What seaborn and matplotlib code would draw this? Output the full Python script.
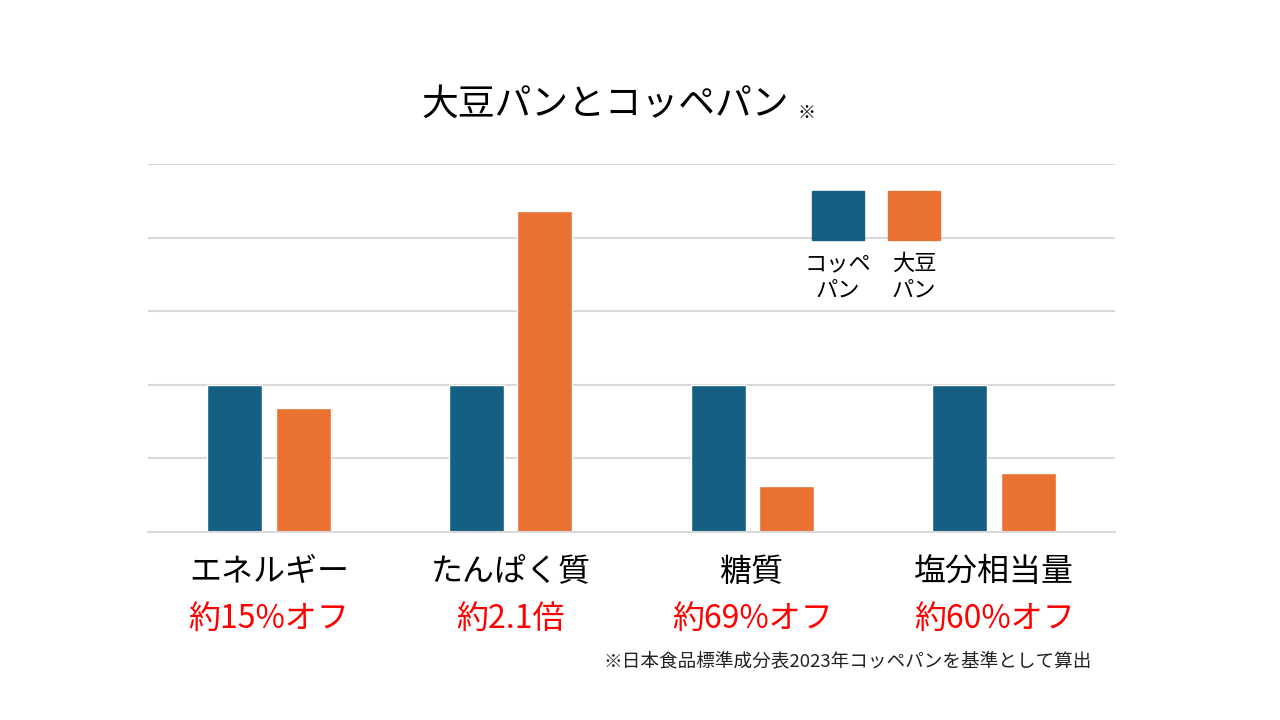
import numpy as np
import pandas as pd
import matplotlib
matplotlib.use("Agg")
import matplotlib.pyplot as plt
import matplotlib.transforms as mtransforms
from matplotlib.patches import Rectangle
import seaborn as sns

# data (コッペパン = 1.0 baseline)
categories = ["エネルギー", "たんぱく質", "糖質", "塩分相当量"]
koppe_values = [1.0, 1.0, 1.0, 1.0]
daizu_values = [0.84, 2.18, 0.31, 0.40]
ratio_labels = ["約15%オフ", "約2.1倍", "約69%オフ", "約60%オフ"]
series_names = ["コッペパン", "大豆パン"]
legend_labels = ["コッペ\nパン", "大豆\nパン"]
colors = ["#156082", "#E97132"]

sns.set_theme(style="white")
plt.rcParams["font.family"] = ["Noto Sans CJK JP", "DejaVu Sans"]

df = pd.DataFrame({
    "category": categories * 2,
    "series": [series_names[0]] * 4 + [series_names[1]] * 4,
    "value": koppe_values + daizu_values,
})

fig = plt.figure(figsize=(12.8, 7.2), dpi=100)
ax = fig.add_axes([0.1156, 0.2611, 0.7555, 0.5111])

sns.barplot(data=df, x="category", y="value", hue="series",
            hue_order=series_names, palette=colors, width=0.567, gap=0.197,
            saturation=1, legend=False, ax=ax)

ax.set_xlim(-0.5, 3.5)
ax.set_ylim(0, 2.5)
ax.set_yticks(np.arange(0, 2.51, 0.5))
ax.set_yticklabels([])
ax.yaxis.grid(True, color="#D9D9D9", linewidth=1.5)
ax.set_axisbelow(True)
for s in ["top", "right", "left"]:
    ax.spines[s].set_visible(False)
ax.spines["bottom"].set_color("#D9D9D9")
ax.spines["bottom"].set_linewidth(1.5)
ax.set_xlabel("")
ax.set_ylabel("")
ax.tick_params(axis="x", length=0, pad=17, labelsize=23, labelcolor="black")
ax.tick_params(axis="y", length=0)

trans = mtransforms.blended_transform_factory(ax.transData, ax.transAxes)
for i, lab in enumerate(ratio_labels):
    ax.text(i, -0.236, lab, transform=trans, ha="center", va="center",
            fontsize=23, color="#FF0000")

# title
fig.text(605 / 1280, 1 - 104 / 720, "大豆パンとコッペパン", ha="center", va="center",
         fontsize=26.5, color="black")
fig.text(806 / 1280, 1 - 113 / 720, "※", ha="center", va="center",
         fontsize=13, color="black")

# legend: swatch above label
W, H = 1280, 720
for i, (lab, c) in enumerate(zip(legend_labels, colors)):
    x0 = 812 + i * 76
    fig.patches.append(Rectangle((x0 / W, 1 - 240 / H), 52 / W, 49 / H,
                                 transform=fig.transFigure, color=c))
    fig.text((x0 + 26) / W, 1 - 277 / H, lab, ha="center", va="center",
             fontsize=16, color="black", linespacing=1.2)

# footnote
fig.text(848 / 1280, 1 - 661 / 720, "※日本食品標準成分表2023年コッペパンを基準として算出",
         ha="center", va="center", fontsize=13.4, color="#222222")

fig.savefig("out.png", dpi=100)
